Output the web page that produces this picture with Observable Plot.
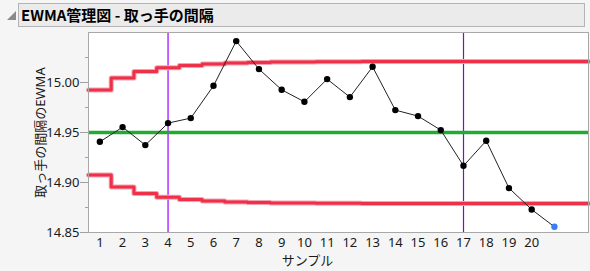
<!DOCTYPE html>
<html><head><meta charset="utf-8">
<script src="https://cdn.jsdelivr.net/npm/d3@7"></script>
<script src="https://cdn.jsdelivr.net/npm/@observablehq/plot@0.6"></script>
<style>
body{margin:0;background:#f5f5f5;font-family:"Noto Sans","Noto Sans CJK JP",sans-serif;width:590px;height:271px;overflow:hidden;position:relative}
#title{position:absolute;left:18px;top:3px;width:567px;height:24px;background:#ebebeb;border:1px solid #b4b4b4;box-sizing:border-box;font:bold 15px "Noto Sans CJK JP",sans-serif;line-height:22px;padding-left:2px;color:#000;white-space:nowrap}
#tri{position:absolute;left:7px;top:11px;width:0;height:0;border-left:9px solid transparent;border-bottom:9px solid #8a8a8a}
#chart{position:absolute;left:0;top:30px}
</style></head><body>
<div id="tri"></div>
<div id="title">EWMA管理図 - 取っ手の間隔</div>
<div id="chart"></div>
<script>
const samples = [1,2,3,4,5,6,7,8,9,10,11,12,13,14,15,16,17,18,19,20,21];
const ewma = [14.9407,14.9554,14.9374,14.9594,14.9644,14.9967,15.0414,15.0134,14.9927,14.9807,15.0034,14.9854,15.0157,14.9724,14.9664,14.9524,14.9167,14.9417,14.8944,14.8730,14.8557];
const limitSamples = [1,2,3,4,5,6,7,8,9,10,11,12,13,14,15,16,17,18,19,20,21,22];
const ucl = [14.9925,15.0045,15.0110,15.0147,15.0170,15.0186,15.0195,15.0201,15.0204,15.0206,15.0207,15.0208,15.0209,15.0209,15.0210,15.0210,15.0210,15.0210,15.0210,15.0210,15.0210,15.0210];
const lcl = [14.9075,14.8955,14.8890,14.8853,14.8830,14.8814,14.8805,14.8799,14.8796,14.8794,14.8793,14.8792,14.8791,14.8791,14.8790,14.8790,14.8790,14.8790,14.8790,14.8790,14.8790,14.8790];
const centerLine = 14.95;
const phaseLines = [4, 17];
const phaseColors = ["#a000ff", "#7a10c8"];
const xTicks = [1,2,3,4,5,6,7,8,9,10,11,12,13,14,15,16,17,18,19,20];
const yTicks = [14.85,14.90,14.95,15.00];
const yMinor = [14.875,14.925,14.975,15.025];
const xTitle = "サンプル";
const yTitle = "取っ手の間隔のEWMA";

const pts = samples.map((s,i)=>({s, v: ewma[i], last: i === samples.length-1}));
function stepRows(vals){
  const rows = limitSamples.map((s,i)=>({x: s-0.5, v: vals[i]}));
  rows.push({x: limitSamples[limitSamples.length-1]+0.5, v: vals[vals.length-1]});
  return rows;
}
const uRows = stepRows(ucl), lRows = stepRows(lcl);
const phases = phaseLines.map((p,i)=>({p, c: phaseColors[i]}));

const chart = Plot.plot({
  width: 590, height: 241,
  marginTop: 2, marginBottom: 39, marginLeft: 88, marginRight: 2,
  style: {background: "transparent", fontFamily: '"Noto Sans","Noto Sans CJK JP",sans-serif', fontSize: "13px", color: "#1a1a1a"},
  x: {domain: [0.5, 22.5]},
  y: {domain: [14.85, 15.05]},
  marks: [
    Plot.frame({fill: "white", stroke: "none"}),
    Plot.ruleX(phases, {x: "p", stroke: "c", strokeWidth: 1.2}),
    Plot.ruleY([centerLine], {stroke: "#22aa33", strokeWidth: 3.5}),
    Plot.line(uRows, {x: "x", y: "v", curve: "step-after", stroke: "#f5a3b1", strokeWidth: 5}),
    Plot.line(lRows, {x: "x", y: "v", curve: "step-after", stroke: "#f5a3b1", strokeWidth: 5}),
    Plot.line(uRows, {x: "x", y: "v", curve: "step-after", stroke: "#ee3049", strokeWidth: 3}),
    Plot.line(lRows, {x: "x", y: "v", curve: "step-after", stroke: "#ee3049", strokeWidth: 3}),
    Plot.line(pts, {x: "s", y: "v", stroke: "#222", strokeWidth: 1}),
    Plot.dot(pts, {x: "s", y: "v", r: 3.2, fill: d => d.last ? "#3a7ff0" : "#000", stroke: "none"}),
    Plot.frame({stroke: "#a8a8a8"}),
    Plot.axisX(xTicks, {tickSize: 0, tickPadding: 5, label: null, fontSize: 13}),
    Plot.axisY(yTicks, {tickSize: 8, tickPadding: 1, tickFormat: d3.format(".2f"), stroke: "#a0a0a0", label: null, fontSize: 13}),
    Plot.tickY(yMinor, {y: d=>d, stroke: "#a0a0a0"}),
    Plot.text([xTitle], {frameAnchor: "bottom", lineAnchor: "middle", textAnchor: "middle", dx: -31, dy: 28, fontSize: 13}),
    Plot.text([yTitle], {frameAnchor: "left", lineAnchor: "middle", textAnchor: "middle", dx: -48, rotate: -90, fontSize: 13})
  ]
});
document.getElementById("chart").appendChild(chart);
// minor ticks: shorten to 3px outside left edge
chart.querySelectorAll("g[aria-label='tick'] line").forEach(l=>{
  l.setAttribute("x1", 85); l.setAttribute("x2", 88);
});
</script>
</body></html>
